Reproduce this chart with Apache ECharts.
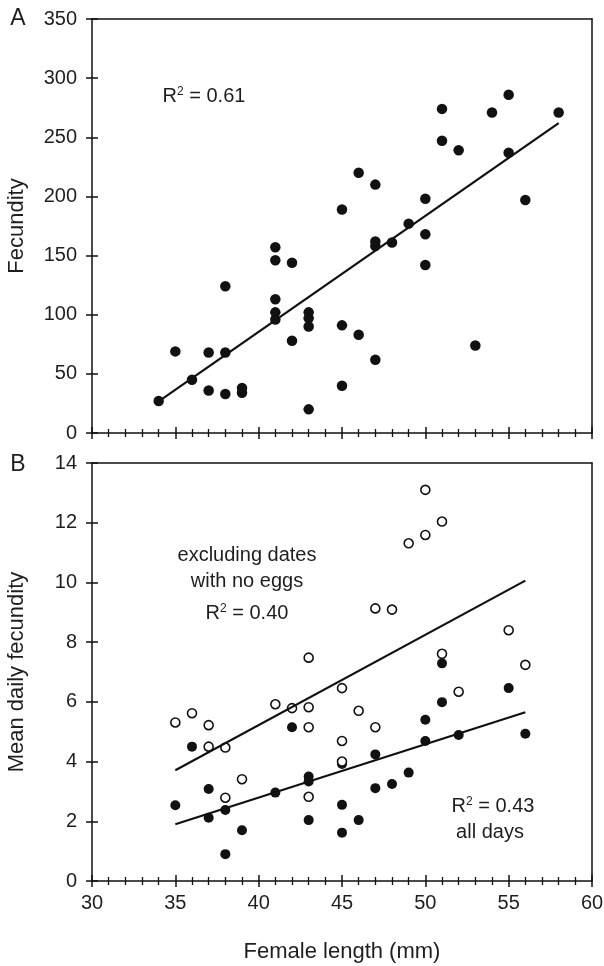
<!DOCTYPE html>
<html>
<head>
<meta charset="utf-8">
<script src="https://cdn.jsdelivr.net/npm/echarts@6/dist/echarts.min.js"></script>
<style>
  html, body { margin: 0; padding: 0; background: #fff; }
  #chart { width: 604px; height: 966px; }
</style>
</head>
<body>
<div id="chart"></div>
<script>
// panel A: fecundity vs female length
const lenA = [34, 35, 36, 37, 37, 38, 38, 38, 39, 39, 41, 41, 41, 41, 41, 42, 42, 43, 43, 43, 43, 45, 45, 45,
  46, 46, 47, 47, 47, 47, 48, 49, 50, 50, 50, 51, 51, 52, 53, 54, 55, 55, 56, 58];
const fecA = [27, 69, 45, 68, 36, 124, 68, 33, 38, 34, 157, 146, 113, 102, 96, 144, 78, 102, 97, 90, 20, 189, 91, 40,
  220, 83, 210, 162, 158, 62, 161, 177, 198, 168, 142, 274, 247, 239, 74, 271, 286, 237, 197, 271];
const fitLenA = [34, 58];
const fitFecA = [26.7, 262];

// panel B: mean daily fecundity, all days (filled)
const lenAll = [35, 36, 37, 37, 38, 38, 39, 41, 42, 43, 43, 43, 45, 45, 45, 46, 47, 47, 48, 49, 50, 50, 51, 51, 52, 55, 56];
const dayAll = [2.54, 4.50, 3.08, 2.12, 2.38, 0.90, 1.70, 2.96, 5.15, 3.50, 3.33, 2.04, 3.92, 2.55, 1.62, 2.04,
  4.24, 3.11, 3.25, 3.63, 5.40, 4.69, 7.29, 5.99, 4.89, 6.46, 4.93];
// panel B: excluding dates with no eggs (open)
const lenEgg = [35, 36, 37, 37, 38, 38, 39, 41, 42, 43, 43, 43, 43, 45, 45, 45, 46, 47, 47, 48, 49, 50, 50, 51, 51, 52, 55, 56];
const dayEgg = [5.31, 5.62, 5.22, 4.50, 4.47, 2.79, 3.41, 5.92, 5.79, 7.48, 5.82, 5.15, 2.82, 6.46, 4.69, 4.00,
  5.70, 9.13, 5.15, 9.09, 11.31, 13.1, 11.59, 12.04, 7.61, 6.34, 8.40, 7.24];
const fitLenB = [35, 56];
const fitEgg = [3.71, 10.06];
const fitAll = [1.90, 5.65];

const xRange = [30, 60, 5];
const yRangeA = [0, 350, 50];
const yRangeB = [0, 14, 2];

const zip = (xs, ys) => xs.map((x, i) => [x, ys[i]]);
const ink = '#111';
const txt = '#1e1e1e';
const font = "'Liberation Sans', Arial, sans-serif";

let myChart = echarts.init(document.getElementById('chart'));

// three x axes per grid: outer ticks + labels, inner ticks, top border
function xAxes(grid, labels) {
  const base = {
    gridIndex: grid, type: 'value', min: xRange[0], max: xRange[1], interval: xRange[2],
    splitLine: { show: false }, minorSplitLine: { show: false }
  };
  return [
    Object.assign({}, base, {
      position: 'bottom',
      axisLine: { onZero: false, lineStyle: { color: ink, width: 1.5 } },
      axisTick: { length: 6, lineStyle: { color: ink, width: 1.5 } },
      minorTick: { show: true, splitNumber: 5, length: 4, lineStyle: { color: ink, width: 1.3 } },
      axisLabel: { show: labels, margin: 12, color: txt, fontSize: 20, fontFamily: font },
      name: labels ? 'Female length (mm)' : '',
      nameLocation: 'middle', nameGap: 60,
      nameTextStyle: { color: txt, fontSize: 22, fontFamily: font }
    }),
    Object.assign({}, base, {
      position: 'bottom',
      axisLine: { show: false, onZero: false },
      axisTick: { inside: true, length: 6, lineStyle: { color: ink, width: 1.5 } },
      minorTick: { show: true, splitNumber: 5, length: 4, lineStyle: { color: ink, width: 1.3 } },
      axisLabel: { show: false }
    }),
    Object.assign({}, base, {
      position: 'top',
      axisLine: { onZero: false, lineStyle: { color: ink, width: 1.5 } },
      axisTick: { show: false }, minorTick: { show: false }, axisLabel: { show: false }
    })
  ];
}

function yAxes(grid, range, name) {
  const base = {
    gridIndex: grid, type: 'value', min: range[0], max: range[1], interval: range[2],
    splitLine: { show: false }
  };
  return [
    Object.assign({}, base, {
      position: 'left',
      axisLine: { show: true, onZero: false, lineStyle: { color: ink, width: 1.5 } },
      axisTick: { show: true, length: 6, lineStyle: { color: ink, width: 1.5 } },
      axisLabel: { margin: 15, color: txt, fontSize: 20, fontFamily: font },
      name: name, nameLocation: 'middle', nameGap: 64,
      nameTextStyle: { color: txt, fontSize: 22, fontFamily: font }
    }),
    Object.assign({}, base, {
      position: 'left',
      axisLine: { show: false, onZero: false },
      axisTick: { show: true, inside: true, length: 6, lineStyle: { color: ink, width: 1.5 } },
      axisLabel: { show: false }
    }),
    Object.assign({}, base, {
      position: 'right',
      axisLine: { show: true, onZero: false, lineStyle: { color: ink, width: 1.5 } },
      axisTick: { show: false }, axisLabel: { show: false }
    })
  ];
}

const note = (x, y, text) => ({
  type: 'text', x: x, y: y, silent: true,
  style: {
    text: text, fill: txt, fontSize: 20, fontFamily: font, align: 'center', verticalAlign: 'middle',
    rich: { sup: { fontSize: 12, fontFamily: font, fill: txt, padding: [0, 0, 9, 0] } }
  }
});

myChart.setOption({
  backgroundColor: '#fff',
  animation: false,
  grid: [
    { left: 92, right: 12, top: 19, height: 414, containLabel: false, outerBoundsMode: 'none' },
    { left: 92, right: 12, top: 463, height: 418, containLabel: false, outerBoundsMode: 'none' }
  ],
  xAxis: xAxes(0, false).concat(xAxes(1, true)),
  yAxis: yAxes(0, yRangeA, 'Fecundity').concat(yAxes(1, yRangeB, 'Mean daily fecundity')),
  series: [
    {
      type: 'scatter', xAxisIndex: 0, yAxisIndex: 0, data: zip(lenA, fecA),
      symbol: 'circle', symbolSize: 10.5, itemStyle: { color: ink, opacity: 1 }
    },
    {
      type: 'line', xAxisIndex: 0, yAxisIndex: 0, data: zip(fitLenA, fitFecA),
      symbol: 'none', lineStyle: { color: ink, width: 2.2 }
    },
    {
      type: 'scatter', xAxisIndex: 3, yAxisIndex: 3, data: zip(lenAll, dayAll),
      symbol: 'circle', symbolSize: 10, itemStyle: { color: ink, opacity: 1 }
    },
    {
      type: 'scatter', xAxisIndex: 3, yAxisIndex: 3, data: zip(lenEgg, dayEgg),
      symbol: 'circle', symbolSize: 9, itemStyle: { color: '#fff', borderColor: ink, borderWidth: 1.6, opacity: 1 }
    },
    {
      type: 'line', xAxisIndex: 3, yAxisIndex: 3, data: zip(fitLenB, fitEgg),
      symbol: 'none', lineStyle: { color: ink, width: 2.2 }
    },
    {
      type: 'line', xAxisIndex: 3, yAxisIndex: 3, data: zip(fitLenB, fitAll),
      symbol: 'none', lineStyle: { color: ink, width: 2.2 }
    }
  ],
  graphic: [
    { type: 'text', x: 18, y: 19, silent: true,
      style: { text: 'A', fill: txt, fontSize: 23, fontFamily: font, align: 'center', verticalAlign: 'middle' } },
    { type: 'text', x: 18, y: 465, silent: true,
      style: { text: 'B', fill: txt, fontSize: 23, fontFamily: font, align: 'center', verticalAlign: 'middle' } },
    note(204, 96, 'R{sup|2} = 0.61'),
    note(247, 555, 'excluding dates'),
    note(247, 581, 'with no eggs'),
    note(247, 613, 'R{sup|2} = 0.40'),
    note(493, 806, 'R{sup|2} = 0.43'),
    note(490, 832, 'all days')
  ]
});
window.addEventListener('resize', () => myChart.resize());
</script>
</body>
</html>
